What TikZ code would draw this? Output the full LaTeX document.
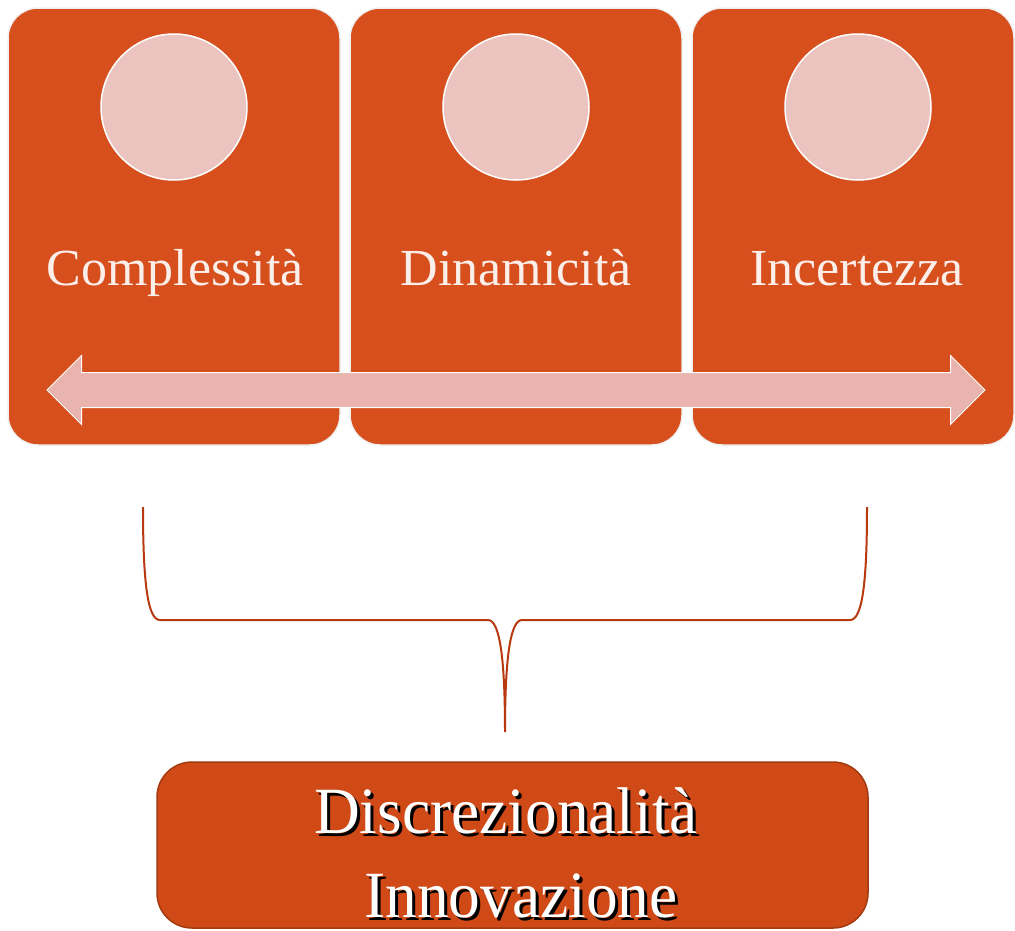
\documentclass[tikz,border=0pt]{standalone}
\usepackage{fontspec}
\setmainfont{Liberation Serif}
\newfontfamily\narrowfont[FakeStretch=0.96]{Liberation Serif}
\usetikzlibrary{shapes,arrows,positioning}
\definecolor{panelorange}{RGB}{214,79,29}
\definecolor{bubblepink}{RGB}{235,196,191}
\definecolor{arrowpink}{RGB}{232,180,173}
\definecolor{bracered}{RGB}{184,56,15}
\definecolor{resultorange}{RGB}{208,74,23}
\definecolor{resultedge}{RGB}{163,58,16}
\definecolor{labelwhite}{RGB}{252,238,233}

\begin{document}
\begin{tikzpicture}[x=1pt,y=-1pt,
		panel/.style={rectangle,rounded corners=30pt,fill=panelorange,draw=white!88!gray,line width=1.5pt,minimum width=332pt,minimum height=437pt,inner sep=0pt,outer sep=0pt},
		bubble/.style={circle,fill=bubblepink,draw=white,line width=1.5pt,minimum size=146pt,inner sep=0pt},
		caption/.style={text=labelwhite,font=\fontsize{52}{60}\selectfont,anchor=base,inner sep=0pt},
		bigtext/.style={font=\narrowfont\fontsize{66}{70}\selectfont,anchor=base,inner sep=0pt}]
		\useasboundingbox (0,0) rectangle (1015,930);
		\node[panel] (pc) at (174,226.5) {};
		\node[panel,right=10pt of pc] (pd) {};
		\node[panel,right=10pt of pd,minimum width=322pt] (pi) {};
		\node[bubble] (bc) at (174,107) {};
		\node[bubble] (bd) at (516,107) {};
		\node[bubble] (bi) at (858,107) {};
		\node[caption] (tc) at (175,285) {Complessità};
		\node[caption] (td) at (516,285) {Dinamicità};
		\node[caption] (ti) at (857,285) {Incertezza};
		\node[double arrow,double arrow head extend=17pt,minimum width=68pt,minimum height=938pt,inner xsep=0pt,inner ysep=17pt,fill=arrowpink,draw=white,line width=1pt] (span) at (516,390) {};
		\coordinate (bl) at (143,507);
		\coordinate (br) at (867,507);
		\coordinate (bt) at (505,732);
		\draw[bracered,line width=2pt] (bl) .. controls (143,585) and (148,620) .. (160,620) -- (488,620) .. controls (500,620) and (505,660) .. (bt) .. controls (505,660) and (510,620) .. (522,620) -- (850,620) .. controls (862,620) and (867,585) .. (br);
		\node[rectangle,rounded corners=35pt,fill=resultorange,draw=resultedge,line width=1.5pt,minimum width=711pt,minimum height=166pt] (res) at (512.5,845) {};
		\node[bigtext,text=black] at (509,836) {Discrezionalità};
		\node[bigtext,text=white] (dis) at (506,833) {Discrezionalità};
		\node[bigtext,text=black] at (524,920) {Innovazione};
		\node[bigtext,text=white] (inn) at (521,917) {Innovazione};
	\end{tikzpicture}
\end{document}
